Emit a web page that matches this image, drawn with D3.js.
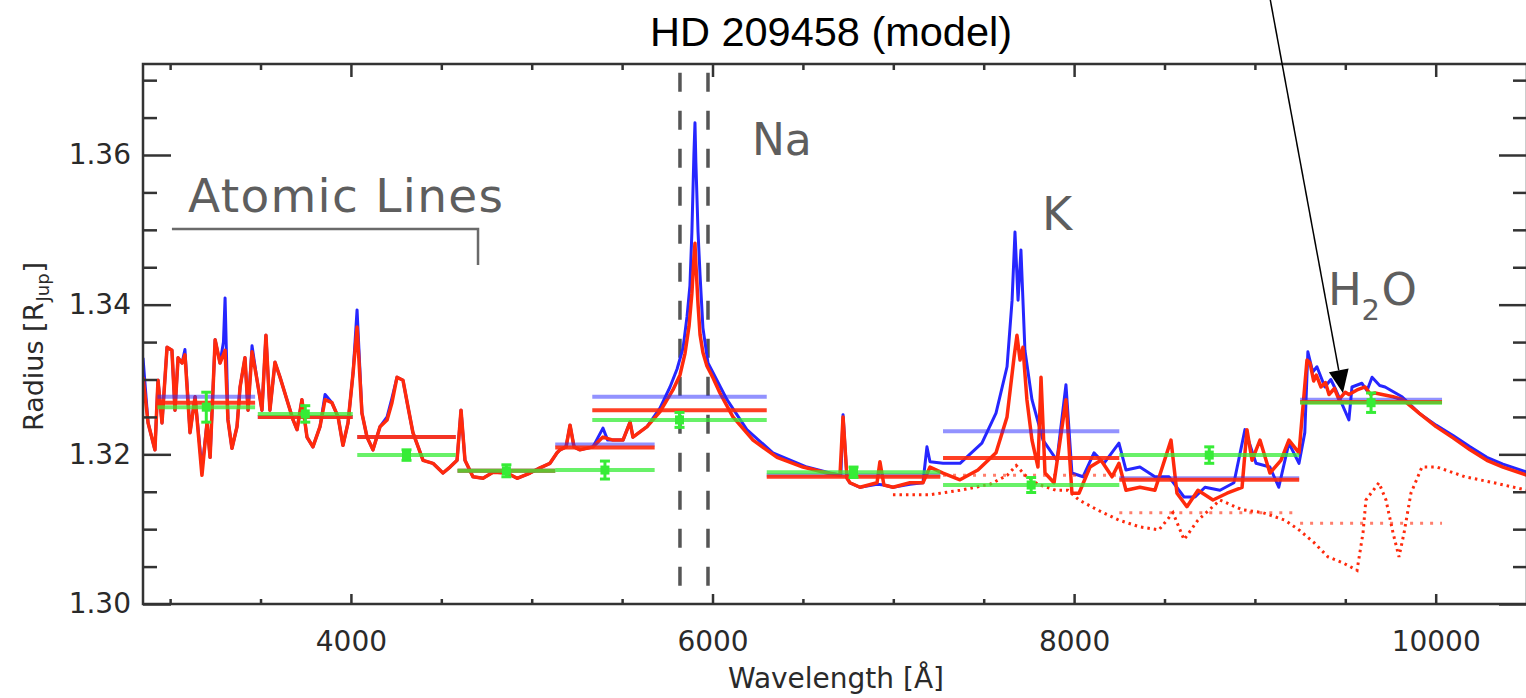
<!DOCTYPE html>
<html>
<head>
<meta charset="utf-8">
<script src="https://cdn.jsdelivr.net/npm/d3@7"></script>
<style>
  html, body { margin: 0; padding: 0; background: #fff; }
  svg { display: block; }
</style>
</head>
<body>
<div id="chart"></div>
<script>
// HD 209458 transmission model: radius vs wavelength, two models + binned values

const W = 1526, H = 698;
const FRAME = { left: 143, right: 1527, top: 64, bottom: 604 };
const X_DOMAIN = [2850, 10505];
const Y_DOMAIN = [1.30, 1.37216];

const xMajorTicks = [4000, 6000, 8000, 10000];
const xMinorTicks = [3000, 3500, 4500, 5000, 5500, 6500, 7000, 7500, 8500, 9000, 9500];
const yMajorTicks = [1.30, 1.32, 1.34, 1.36];
const yMinorTicks = [1.305, 1.31, 1.315, 1.325, 1.33, 1.335, 1.345, 1.35, 1.355, 1.365, 1.37];

// [wavelength (A), radius (R_Jup)]
const blueModel = [
  [2850,1.3329],[2878,1.3242],[2916,1.3206],[2933,1.3299],[2955,1.3242],[2983,1.3343],[3010,1.3339],
  [3027,1.3259],[3044,1.3329],[3066,1.3322],[3082,1.3340],[3110,1.3229],[3138,1.3277],[3176,1.3180],
  [3204,1.3242],[3221,1.3196],[3249,1.3353],[3276,1.3322],[3295,1.3350],[3304,1.3409],[3312,1.3330],
  [3320,1.3246],[3342,1.3208],[3370,1.3237],[3387,1.3290],[3414,1.3329],[3431,1.3259],[3453,1.3345],
  [3481,1.3299],[3508,1.3259],[3530,1.3359],[3552,1.3259],[3580,1.3323],[3608,1.3303],[3646,1.3273],
  [3680,1.3246],[3702,1.3233],[3729,1.3273],[3757,1.3223],[3790,1.3210],[3829,1.3237],[3857,1.3280],
  [3895,1.3269],[3929,1.3250],[3956,1.3212],[3984,1.3242],[4012,1.3309],[4034,1.3393],[4061,1.3255],
  [4089,1.3223],[4122,1.3206],[4161,1.3237],[4200,1.3250],[4227,1.3275],[4255,1.3303],[4288,1.3299],
  [4316,1.3263],[4343,1.3229],[4399,1.3192],[4454,1.3188],[4509,1.3175],[4548,1.3183],[4587,1.3192],
  [4609,1.3259],[4631,1.3192],[4675,1.3170],[4731,1.3168],[4786,1.3176],[4863,1.3175],[4919,1.3168],
  [4991,1.3175],[5046,1.3182],[5101,1.3188],[5140,1.3202],[5156,1.3206],[5190,1.3210],[5212,1.3239],
  [5234,1.3210],[5267,1.3206],[5339,1.3210],[5394,1.3235],[5420,1.3219],[5450,1.3219],[5505,1.3219],
  [5544,1.3243],[5560,1.3223],[5638,1.3237],[5710,1.3262],[5765,1.3290],[5804,1.3314],[5837,1.3342],
  [5859,1.3384],[5875,1.3425],[5886,1.3497],[5897,1.3600],[5903,1.3643],[5908,1.3590],[5920,1.3497],
  [5931,1.3440],[5947,1.3369],[5975,1.3322],[6003,1.3309],[6080,1.3273],[6190,1.3233],[6334,1.3202],
  [6522,1.3183],[6650,1.3175],[6710,1.3172],[6722,1.3253],[6744,1.3168],[6760,1.3162],[6816,1.3156],
  [6910,1.3160],[6948,1.3159],[6998,1.3156],[7092,1.3160],[7164,1.3162],[7186,1.3210],[7203,1.3190],
  [7275,1.3188],[7369,1.3188],[7490,1.3215],[7568,1.3255],[7629,1.3317],[7657,1.3406],[7673,1.3497],
  [7690,1.3406],[7706,1.3473],[7728,1.3339],[7767,1.3273],[7828,1.3219],[7905,1.3192],[7955,1.3293],
  [7988,1.3175],[8049,1.3170],[8110,1.3202],[8165,1.3188],[8248,1.3215],[8287,1.3179],[8364,1.3183],
  [8447,1.3170],[8525,1.3170],[8608,1.3143],[8669,1.3143],[8724,1.3156],[8807,1.3152],[8884,1.3162],
  [8945,1.3233],[9006,1.3188],[9083,1.3183],[9132,1.3156],[9188,1.3215],[9244,1.3188],[9276,1.3229],
  [9293,1.3337],[9320,1.3310],[9343,1.3317],[9387,1.3290],[9420,1.3300],[9448,1.3286],[9520,1.3246],
  [9537,1.3290],[9592,1.3295],[9620,1.3285],[9648,1.3303],[9690,1.3292],[9720,1.3290],[9814,1.3277],
  [9908,1.3255],[10002,1.3239],[10096,1.3225],[10190,1.3210],[10283,1.3196],[10372,1.3187],[10505,1.3176]
];

const redModel = [
  [2850,1.3303],[2878,1.3242],[2916,1.3206],[2933,1.3299],[2955,1.3242],[2983,1.3343],[3010,1.3339],
  [3027,1.3259],[3044,1.3329],[3066,1.3322],[3082,1.3333],[3110,1.3229],[3138,1.3277],[3176,1.3172],
  [3204,1.3242],[3221,1.3196],[3249,1.3353],[3276,1.3322],[3304,1.3339],[3320,1.3246],[3342,1.3208],
  [3370,1.3237],[3387,1.3290],[3414,1.3329],[3431,1.3259],[3453,1.3337],[3481,1.3299],[3508,1.3259],
  [3530,1.3359],[3552,1.3259],[3580,1.3323],[3608,1.3303],[3646,1.3273],[3680,1.3246],[3702,1.3233],
  [3729,1.3273],[3757,1.3223],[3790,1.3210],[3829,1.3237],[3857,1.3273],[3895,1.3269],[3929,1.3250],
  [3956,1.3212],[3984,1.3242],[4012,1.3309],[4034,1.3370],[4061,1.3255],[4089,1.3223],[4122,1.3206],
  [4161,1.3237],[4200,1.3246],[4227,1.3269],[4255,1.3303],[4288,1.3299],[4316,1.3263],[4343,1.3229],
  [4399,1.3192],[4454,1.3188],[4509,1.3175],[4548,1.3183],[4587,1.3192],[4609,1.3259],[4631,1.3192],
  [4675,1.3170],[4731,1.3168],[4786,1.3176],[4863,1.3175],[4919,1.3168],[4991,1.3175],[5046,1.3182],
  [5101,1.3188],[5140,1.3202],[5156,1.3206],[5190,1.3210],[5212,1.3239],[5234,1.3210],[5267,1.3206],
  [5339,1.3210],[5394,1.3223],[5450,1.3219],[5505,1.3219],[5544,1.3243],[5560,1.3223],[5638,1.3237],
  [5710,1.3257],[5781,1.3286],[5820,1.3306],[5848,1.3335],[5870,1.3371],[5886,1.3415],[5897,1.3462],
  [5903,1.3482],[5908,1.3455],[5920,1.3400],[5931,1.3360],[5947,1.3336],[5969,1.3318],[6003,1.3302],
  [6041,1.3282],[6113,1.3250],[6224,1.3219],[6357,1.3196],[6500,1.3183],[6633,1.3175],[6705,1.3172],
  [6722,1.3250],[6744,1.3168],[6760,1.3162],[6816,1.3156],[6910,1.3162],[6926,1.3190],[6948,1.3159],
  [6998,1.3156],[7092,1.3162],[7164,1.3162],[7203,1.3183],[7275,1.3175],[7369,1.3166],[7468,1.3179],
  [7568,1.3202],[7629,1.3250],[7668,1.3330],[7684,1.3359],[7701,1.3326],[7717,1.3343],[7739,1.3273],
  [7767,1.3219],[7800,1.3183],[7817,1.3303],[7839,1.3175],[7889,1.3162],[7955,1.3273],[7988,1.3148],
  [8027,1.3148],[8088,1.3183],[8149,1.3192],[8210,1.3170],[8248,1.3188],[8287,1.3152],[8364,1.3156],
  [8447,1.3152],[8536,1.3219],[8569,1.3148],[8624,1.3130],[8685,1.3152],[8768,1.3139],[8846,1.3148],
  [8929,1.3156],[8956,1.3233],[8984,1.3192],[9028,1.3219],[9083,1.3175],[9144,1.3192],[9188,1.3219],
  [9244,1.3202],[9288,1.3326],[9305,1.3322],[9325,1.3298],[9340,1.3306],[9365,1.3290],[9390,1.3296],
  [9410,1.3280],[9440,1.3288],[9465,1.3273],[9500,1.3283],[9520,1.3280],[9565,1.3286],[9610,1.3290],
  [9640,1.3280],[9664,1.3282],[9764,1.3277],[9819,1.3273],[9908,1.3255],[10002,1.3237],[10096,1.3222],
  [10190,1.3206],[10283,1.3192],[10372,1.3183],[10505,1.3172]
];

// second (dotted) model, red
const dottedModel = [
  [6998,1.3146],[7203,1.3146],[7369,1.3152],[7535,1.3160],[7630,1.3172],[7680,1.3185],[7730,1.3172],
  [7800,1.3160],[7900,1.3152],[7966,1.3152],[8027,1.3139],[8127,1.3126],[8248,1.3112],[8364,1.3103],
  [8469,1.3099],[8547,1.3122],[8608,1.3086],[8685,1.3112],[8807,1.3139],[8929,1.3126],[9045,1.3122],
  [9166,1.3112],[9244,1.3099],[9327,1.3082],[9404,1.3063],[9487,1.3055],[9565,1.3045],[9598,1.3095],
  [9614,1.3139],[9686,1.3162],[9725,1.3139],[9764,1.3095],[9797,1.3063],[9825,1.3095],[9863,1.3148],
  [9924,1.3183],[10007,1.3183],[10162,1.3170],[10322,1.3162],[10505,1.3152]
];

// binned values
const binEdges = [[2930,3470],[3485,4010],[4035,4580],[4590,5130],[5130,5680],
                  [5335,6300],[6300,7260],[7275,8250],[8250,9245],[9250,10035]];
const blueBinned   = [1.3277,1.3250,1.3223,1.3178,1.3213,1.3277,1.3172,1.3231,1.3168,1.3273];
const redBinned    = [1.3269,1.3250,1.3223,1.3178,1.3209,1.3259,1.3170,1.3195,1.3166,1.3270];
const greenBinned  = [1.3263,1.3254,1.3199,1.3178,1.3179,1.3246,1.3176,1.3159,1.3199,1.3269];
const greenErr     = [0.0020,0.0011,0.0007,0.0008,0.0012,0.0010,0.0007,0.0010,0.0011,0.0013];
const dottedBinned = [null,null,null,null,null,null,null,1.3172,1.3122,1.3108];

const naGuides = [5820, 5975];

const BLUE = '#2626ff', RED = '#ff2a0c', GREEN = '#36ec36';
const AXIS = '#333', ANNOT = '#5e5e5e';

const x = d3.scaleLinear().domain(X_DOMAIN).range([FRAME.left, FRAME.right]);
const y = d3.scaleLinear().domain(Y_DOMAIN).range([FRAME.bottom, FRAME.top]);

const svg = d3.select('#chart').append('svg')
  .attr('width', W).attr('height', H)
  .style('font-family', '"DejaVu Sans", sans-serif');

svg.append('defs').append('clipPath').attr('id', 'plot-clip')
  .append('rect')
  .attr('x', FRAME.left).attr('y', FRAME.top)
  .attr('width', FRAME.right - FRAME.left).attr('height', FRAME.bottom - FRAME.top);

const plot = svg.append('g').attr('clip-path', 'url(#plot-clip)');

// Na doublet dashed guides
plot.selectAll('.na-guide')
  .data(naGuides)
  .join('line')
  .attr('class', 'na-guide')
  .attr('x1', d => x(d)).attr('x2', d => x(d))
  .attr('y1', y(1.3710)).attr('y2', y(1.30))
  .attr('stroke', '#555')
  .attr('stroke-width', 3.5)
  .attr('stroke-dasharray', '19,19');

// Model spectra
const line = d3.line().x(d => x(d[0])).y(d => y(d[1]));

plot.append('path').datum(blueModel)
  .attr('d', line).attr('fill', 'none')
  .attr('stroke', BLUE).attr('stroke-width', 3)
  .attr('stroke-linejoin', 'round');

plot.append('path').datum(redModel)
  .attr('d', line).attr('fill', 'none')
  .attr('stroke', RED).attr('stroke-width', 3.5)
  .attr('stroke-linejoin', 'round');

plot.append('path').datum(dottedModel)
  .attr('d', line).attr('fill', 'none')
  .attr('stroke', RED).attr('stroke-width', 3)
  .attr('stroke-dasharray', '2.5,4');

// Binned bars
const bins = binEdges.map(([lo, hi], i) => ({
  lo, hi, mid: (lo + hi) / 2,
  blue: blueBinned[i], red: redBinned[i], green: greenBinned[i],
  err: greenErr[i], dotted: dottedBinned[i],
}));

function drawBars(key, color, opacity, dash) {
  plot.selectAll(`.bar-${key}`)
    .data(bins.filter(d => d[key] != null))
    .join('line')
    .attr('class', `bar-${key}`)
    .attr('x1', d => x(d.lo)).attr('x2', d => x(d.hi))
    .attr('y1', d => y(d[key])).attr('y2', d => y(d[key]))
    .attr('stroke', color)
    .attr('stroke-width', dash ? 3 : 4)
    .attr('stroke-opacity', opacity)
    .attr('stroke-dasharray', dash || null);
}
drawBars('blue', BLUE, 0.5);
drawBars('red', RED, 0.9);
drawBars('dotted', RED, 0.6, '3,7');
drawBars('green', GREEN, 0.75);

// Green error bars + markers
const marks = plot.selectAll('.green-mark')
  .data(bins)
  .join('g')
  .attr('class', 'green-mark')
  .attr('transform', d => `translate(${x(d.mid)},0)`);
marks.append('line')
  .attr('y1', d => y(d.green - d.err)).attr('y2', d => y(d.green + d.err))
  .attr('stroke', GREEN).attr('stroke-width', 3);
marks.append('line')
  .attr('x1', -5).attr('x2', 5)
  .attr('y1', d => y(d.green + d.err)).attr('y2', d => y(d.green + d.err))
  .attr('stroke', GREEN).attr('stroke-width', 3);
marks.append('line')
  .attr('x1', -5).attr('x2', 5)
  .attr('y1', d => y(d.green - d.err)).attr('y2', d => y(d.green - d.err))
  .attr('stroke', GREEN).attr('stroke-width', 3);
marks.append('rect')
  .attr('x', -4.5).attr('y', d => y(d.green) - 4.5)
  .attr('width', 9).attr('height', 9)
  .attr('fill', GREEN);

// Frame
svg.append('rect')
  .attr('x', FRAME.left).attr('y', FRAME.top)
  .attr('width', FRAME.right - FRAME.left).attr('height', FRAME.bottom - FRAME.top)
  .attr('fill', 'none').attr('stroke', AXIS).attr('stroke-width', 2.5);

function styleAxis(g) {
  g.select('.domain').remove();
  g.selectAll('.tick line').attr('stroke', AXIS).attr('stroke-width', 2.5);
  g.selectAll('.tick text')
    .attr('font-family', '"DejaVu Sans", sans-serif')
    .attr('font-size', 28)
    .attr('fill', '#2a2a2a');
}

const noLabel = () => '';

svg.append('g').attr('transform', `translate(0,${FRAME.bottom})`)
  .call(d3.axisBottom(x).tickValues(xMajorTicks).tickSize(-10).tickPadding(27).tickFormat(d3.format('d')))
  .call(styleAxis);
svg.append('g').attr('transform', `translate(0,${FRAME.bottom})`)
  .call(d3.axisBottom(x).tickValues(xMinorTicks).tickSize(-5).tickFormat(noLabel))
  .call(styleAxis);
svg.append('g').attr('transform', `translate(0,${FRAME.top})`)
  .call(d3.axisTop(x).tickValues(xMajorTicks).tickSize(-13).tickFormat(noLabel))
  .call(styleAxis);
svg.append('g').attr('transform', `translate(0,${FRAME.top})`)
  .call(d3.axisTop(x).tickValues(xMinorTicks).tickSize(-6).tickFormat(noLabel))
  .call(styleAxis);

svg.append('g').attr('transform', `translate(${FRAME.left},0)`)
  .call(d3.axisLeft(y).tickValues(yMajorTicks).tickSize(-28).tickPadding(12).tickFormat(d3.format('.2f')))
  .call(styleAxis);
svg.append('g').attr('transform', `translate(${FRAME.left},0)`)
  .call(d3.axisLeft(y).tickValues(yMinorTicks).tickSize(-14).tickFormat(noLabel))
  .call(styleAxis);
svg.append('g').attr('transform', `translate(${FRAME.right},0)`)
  .call(d3.axisRight(y).tickValues(yMajorTicks).tickSize(-28).tickFormat(noLabel))
  .call(styleAxis);
svg.append('g').attr('transform', `translate(${FRAME.right},0)`)
  .call(d3.axisRight(y).tickValues(yMinorTicks).tickSize(-14).tickFormat(noLabel))
  .call(styleAxis);

// Axis titles
svg.append('text')
  .attr('x', 836).attr('y', 688)
  .attr('text-anchor', 'middle')
  .attr('font-size', 28)
  .attr('fill', '#2a2a2a')
  .text('Wavelength [Å]');

const yLab = svg.append('text')
  .attr('transform', 'translate(43,431) rotate(-90)')
  .attr('font-size', 27)
  .attr('fill', '#2a2a2a');
yLab.append('tspan').text('Radius  [R');
yLab.append('tspan').attr('font-size', 18).attr('dy', 6).attr('dx', 1).text('Jup');
yLab.append('tspan').attr('dy', -6).attr('dx', 1).text(']');

// Title
svg.append('text')
  .attr('x', 831).attr('y', 46)
  .attr('text-anchor', 'middle')
  .attr('font-family', '"Liberation Sans", Arial, sans-serif')
  .attr('font-size', 41.5)
  .attr('fill', '#000')
  .text('HD 209458 (model)');

// In-plot annotations
svg.append('text')
  .attr('x', x(3099)).attr('y', y(1.3524))
  .attr('font-size', 47).attr('fill', ANNOT)
  .attr('textLength', 315).attr('lengthAdjust', 'spacing')
  .text('Atomic Lines');

svg.append('path')
  .attr('d', `M${x(3010)},${y(1.3501)}H${x(4703)}V${y(1.3453)}`)
  .attr('fill', 'none').attr('stroke', '#6a6a6a').attr('stroke-width', 2.5);

svg.append('text')
  .attr('x', x(6218)).attr('y', y(1.3600))
  .attr('font-size', 44).attr('fill', ANNOT)
  .text('Na');

svg.append('text')
  .attr('x', x(7822)).attr('y', y(1.3500))
  .attr('font-size', 46).attr('fill', ANNOT)
  .text('K');

const h2o = svg.append('g').attr('fill', ANNOT);
h2o.append('text').attr('x', x(9404)).attr('y', y(1.3400)).attr('font-size', 45).text('H');
h2o.append('text').attr('x', x(9590)).attr('y', y(1.3379)).attr('font-size', 29).text('2');
h2o.append('text').attr('x', x(9700)).attr('y', y(1.3400)).attr('font-size', 45).text('O');

// Arrow pointing at the H2O feature
const arrowFrom = [x(9083), y(1.3810)];
const arrowTo = [x(9487), y(1.3282)];
const dx = arrowTo[0] - arrowFrom[0], dy = arrowTo[1] - arrowFrom[1];
const len = Math.hypot(dx, dy), ux = dx / len, uy = dy / len;
const headL = 23, headW = 10;
const base = [arrowTo[0] - ux * headL, arrowTo[1] - uy * headL];
svg.append('line')
  .attr('x1', arrowFrom[0]).attr('y1', arrowFrom[1])
  .attr('x2', base[0]).attr('y2', base[1])
  .attr('stroke', '#000').attr('stroke-width', 1.5);
svg.append('path')
  .attr('d', `M${arrowTo[0]},${arrowTo[1]}L${base[0] + uy * headW},${base[1] - ux * headW}L${base[0] - uy * headW},${base[1] + ux * headW}Z`)
  .attr('fill', '#000');
</script>
</body>
</html>
